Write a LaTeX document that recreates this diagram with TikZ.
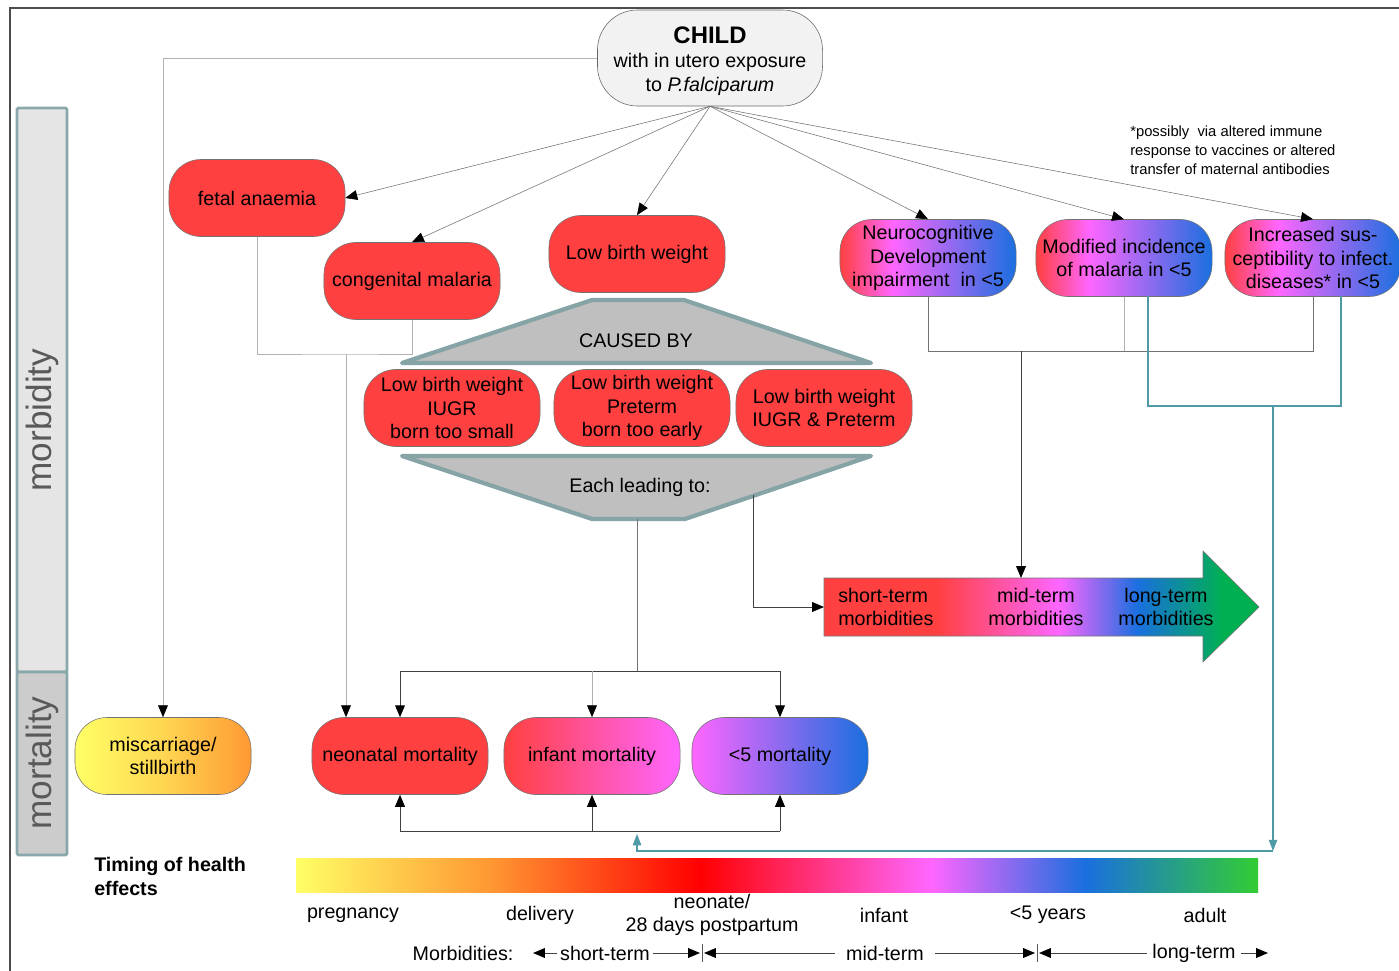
\documentclass[tikz,border=0pt]{standalone}
\usepackage{fontspec}
\setmainfont{Liberation Sans}
\usepackage{xcolor}
\usepackage{tikz}
\usetikzlibrary{shapes,arrows,positioning,calc,arrows.meta}

\definecolor{lbwred}{HTML}{FF4040}
\definecolor{pinkish}{HTML}{FF66FF}
\definecolor{bluish}{HTML}{1A6FDF}
\definecolor{greenish}{HTML}{00B050}
\definecolor{limegreen}{HTML}{33CC33}
\definecolor{yellowish}{HTML}{FFFF66}
\definecolor{orangeish}{HTML}{FF9933}
\definecolor{barline}{HTML}{8AA8AB}
\definecolor{hexfill}{HTML}{BFBFBF}
\definecolor{hexline}{HTML}{86A3A6}
\definecolor{tealline}{HTML}{4F9AA5}

\pgfdeclarehorizontalshading{rmb}{100bp}{color(0bp)=(lbwred); color(25bp)=(lbwred); color(40bp)=(pinkish); color(75bp)=(bluish); color(100bp)=(bluish)}
\pgfdeclarehorizontalshading{bigarrow}{100bp}{color(0bp)=(lbwred); color(25bp)=(lbwred); color(38bp)=(lbwred); color(52bp)=(pinkish); color(61bp)=(bluish); color(71bp)=(greenish); color(100bp)=(greenish)}
\pgfdeclarehorizontalshading{timeline}{100bp}{color(0bp)=(yellowish); color(25bp)=(yellowish); color(35bp)=(orangeish); color(46bp)=(red); color(58bp)=(pinkish); color(66bp)=(bluish); color(75bp)=(limegreen); color(100bp)=(limegreen)}

\newcommand{\pillfont}{\fontsize{14}{16.5}\selectfont}

\tikzset{
  pill/.style={draw=black!55, rounded corners=0.8cm, minimum width=4.4cm, minimum height=1.925cm, align=center, inner sep=1pt, font=\pillfont},
  redpill/.style={pill, fill=lbwred},
  rmbpill/.style={pill, shade, shading=rmb},
  hexshape/.style={draw=hexline, line width=3pt, fill=hexfill, line join=round},
  sidebar/.style={draw=barline, line width=2pt, rounded corners=1pt},
  sidetext/.style={rotate=90, text=black!65, font=\fontsize{25}{30}\selectfont},
  conn/.style={draw=black!55, line width=0.4pt},
  lightconn/.style={draw=black!30, line width=0.6pt},
  darkconn/.style={draw=black!75, line width=0.7pt},
  tealconn/.style={draw=tealline, line width=0.8pt, >={Triangle[length=8pt,width=6pt]}},
  timetext/.style={font=\pillfont, inner sep=1pt}
}

\begin{document}
\begin{tikzpicture}[x=0.025cm, y=-0.025cm, >={Triangle[length=8.5pt,width=7pt,color=black]}]
    \useasboundingbox (0,0) rectangle (1399,971);

    % Frame
    \draw[black!70, line width=0.8pt] (10,971) -- (10,8) -- (1399,8);

    % Side bars
    \draw[sidebar, fill=black!10] (17,108) rectangle (67,672);
    \draw[sidebar, fill=black!20] (17,672) rectangle (67,855);
    \node[sidetext] (morbidity) at (42,420) {morbidity};
    \node[sidetext] (mortality) at (42,763) {mortality};

    % Child
    \node[pill, fill=black!5, draw=black!60, minimum width=5.625cm, minimum height=2.4cm, rounded corners=1cm, font=\fontsize{14}{17}\selectfont] (child) at (710,58)
      {{\fontsize{17}{17}\selectfont\bfseries\rule{0pt}{16pt}CHILD}\\with in utero exposure\\to \textit{P.falciparum}};

    % Footnote
    \node[anchor=north west, align=left, inner sep=0pt, font=\fontsize{10.5}{13.2}\selectfont] (footnote) at (1130,126)
      {*possibly~ via altered immune\\response to vaccines or altered\\transfer of maternal antibodies};

    % Morbidity nodes
    \node[redpill] (fetal) at (257,198) {fetal anaemia};
    \node[redpill] (congenital) at (412,281) {congenital malaria};
    \node[redpill] (lbwtop) at (637,254) {Low birth weight};
    \node[rmbpill] (neuro) at (928,258) {Neurocognitive\\Development\\impairment~ in <5};
    \node[rmbpill] (modinc) at (1124,258) {Modified incidence\\of malaria in <5};
    \node[rmbpill] (infsusc) at (1313,258) {Increased sus-\\ceptibility to infect.\\diseases* in <5};

    % Caused by
    \draw[hexshape] (402,363) -- (592,300) -- (684,300) -- (871,363) -- cycle;
    \node[font=\pillfont] (causedby) at (636,341) {CAUSED BY};
    \node[redpill] (lbwiugr) at (452,408) {Low birth weight\\IUGR\\born too small};
    \node[redpill] (lbwpre) at (642,408) {Low birth weight\\Preterm\\born too early};
    \node[redpill] (lbwboth) at (824,408) {Low birth weight\\IUGR \& Preterm};

    % Each leading to
    \draw[hexshape] (402,456) -- (871,456) -- (685,519) -- (592,519) -- cycle;
    \node[font=\pillfont] (leading) at (640,487) {Each leading to:};

    % Big arrow
    \shade[shading=bigarrow, draw=black!55] (824,578) -- (1203,578) -- (1203,551) -- (1259,607)
      -- (1203,662) -- (1203,636) -- (824,636) -- cycle;
    \node[anchor=west, align=left, font=\pillfont, inner sep=0pt] (shortmorb) at (838,607) {short-term\\morbidities};
    \node[align=center, font=\pillfont, inner sep=0pt] (midmorb) at (1036,607) {mid-term\\morbidities};
    \node[align=center, font=\pillfont, inner sep=0pt] (longmorb) at (1166,607) {long-term\\morbidities};
    \coordinate (bigW) at (824,607);
    \coordinate (bigN) at (1021,578);

    % Mortality nodes
    \node[pill, left color=yellowish, right color=orangeish, middle color=yellowish!60!orangeish] (miscarriage) at (163,756) {miscarriage/\\stillbirth};
    \node[redpill] (neonatal) at (400,756) {neonatal mortality};
    \node[pill, left color=lbwred, right color=pinkish] (infant) at (592,756) {infant mortality};
    \node[pill, left color=pinkish, right color=bluish] (under5) at (780,756) {<5 mortality};

    % Child to effects
    \draw[conn, ->] (child.south) -- (fetal.east);
    \foreach \t in {congenital, lbwtop, neuro, modinc, infsusc}
      \draw[conn, ->] (child.south) -- (\t.north);
    \draw[lightconn, ->] (child.west) -| (miscarriage.north);

    % Fetal anaemia and congenital malaria
    \coordinate (fcjoin) at (346,354);
    \draw[lightconn] (fetal.south) |- (fcjoin) -| (congenital.south);
    \draw[lightconn, ->] (fcjoin) -- (fcjoin |- neonatal.north);

    % Leading to mortality
    \coordinate (leadbot) at (637,519);
    \coordinate (mortjoin) at (637,671);
    \draw[conn] (leadbot) -- (mortjoin);
    \draw[darkconn, ->] (mortjoin) -| (neonatal.north);
    \draw[darkconn, ->] (mortjoin) -| (under5.north);
    \draw[lightconn, ->] (mortjoin -| infant.north) -- (infant.north);

    % Leading to morbidities
    \coordinate (leadside) at (753,495);
    \draw[darkconn, ->] (leadside) |- (bigW);

    % Neuro, malaria, infections
    \coordinate (neurojoin) at (1021,351);
    \draw[conn] (neuro.south) |- (infsusc.south |- neurojoin) -- (infsusc.south);
    \draw[lightconn] (modinc.south) -- (modinc.south |- neurojoin);
    \draw[darkconn, ->] (neurojoin) -- (bigN);

    % Teal feedback
    \coordinate (tealA) at (1148,296);
    \coordinate (tealB) at (1341,296);
    \coordinate (tealjoin) at (1273,406);
    \coordinate (tealdown) at (1273,851);
    \coordinate (tealup) at (637,834);
    \draw[tealconn] (tealA) |- (tealB |- tealjoin) -- (tealB);
    \draw[tealconn, ->] (tealjoin) -- (tealdown);
    \draw[tealconn, ->] (tealdown) -| (tealup);

    % Bottom bracket
    \coordinate (botbar) at (592,831);
    \draw[darkconn] (neonatal.south |- botbar) -- (under5.south |- botbar);
    \foreach \t in {neonatal, infant, under5}
      \draw[darkconn, ->] (\t.south |- botbar) -- (\t.south);

    % Timing of health effects
    \node[anchor=north west, align=left, inner sep=0pt, font=\fontsize{14}{17}\selectfont\bfseries] (timing) at (94,857) {Timing of health\\effects};
    \shade[shading=timeline] (296,858) rectangle (1258,892);
    \node[timetext] (pregnancy) at (353,915) {pregnancy};
    \node[timetext] (delivery) at (540,915) {delivery};
    \node[timetext, align=center] (neonate) at (712,915) {neonate/\\28 days postpartum};
    \node[timetext] (infanttime) at (884,915) {infant};
    \node[timetext] (fiveyears) at (1048,915) {<5 years};
    \node[timetext] (adult) at (1205,915) {adult};

    % Morbidities row
    \node[timetext] (morbrow) at (463,953) {Morbidities:};
    \node[timetext, inner xsep=2pt] (msShort) at (605,953) {short-term};
    \node[timetext, inner xsep=8pt] (msMid) at (885,953) {mid-term};
    \node[timetext, inner xsep=4pt] (msLong) at (1194,953) {long-term};
    \coordinate (msStart) at (533,953);
    \coordinate (tickA) at (702,953);
    \coordinate (tickB) at (1037,953);
    \coordinate (msEnd) at (1268,953);
    \draw[black!65, line width=0.4pt] ($(tickA)+(0,-9)$) -- ($(tickA)+(0,9)$);
    \draw[black!65, line width=0.4pt] ($(tickB)+(0,-9)$) -- ($(tickB)+(0,9)$);
    \draw[darkconn, ->] (msShort.west) -- (msStart);
    \draw[darkconn, ->] (msShort.east) -- ($(tickA)+(-2,0)$);
    \draw[darkconn, ->] (msMid.west) -- ($(tickA)+(2,0)$);
    \draw[darkconn, ->] (msMid.east) -- ($(tickB)+(-2,0)$);
    \draw[darkconn, ->] (msLong.west) -- ($(tickB)+(2,0)$);
    \draw[darkconn, ->] (msLong.east) -- (msEnd);
\end{tikzpicture}
\end{document}
